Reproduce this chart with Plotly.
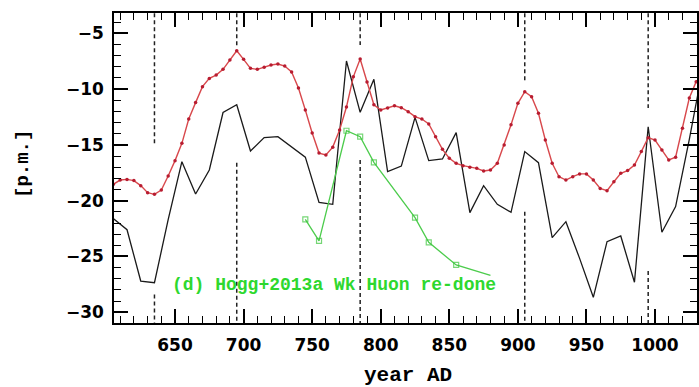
import plotly.graph_objects as go

# ---------------- data ----------------
black_years = list(range(605, 1036, 10))
black_vals = [-21.6, -22.6, -27.2, -27.35, -21.7, -16.5, -19.4, -17.25, -12.1, -11.4,
              -15.55, -14.35, -14.26, -15.16, -16.1, -20.15, -20.33, -7.48, -12.08, -9.12,
              -17.4, -16.9, -12.53, -16.41, -16.26, -13.9, -21.07, -18.65, -20.33, -21.04,
              -15.6, -16.59, -23.31, -21.88, -25.17, -28.66, -23.67, -23.16, -27.31, -13.37,
              -22.83, -20.53, -14.5, -8.0]

red_years = list(range(605, 1031, 5))
red_vals = [-18.53, -18.15, -18.09, -18.2, -18.65, -19.28, -19.43, -19.04, -17.79, -16.41,
            -14.86, -12.68, -11.21, -9.78, -9.04, -8.74, -8.23, -7.39, -6.56, -7.33,
            -8.14, -8.23, -8.05, -7.84, -7.75, -7.93, -8.47, -9.9, -11.87, -13.93,
            -15.73, -15.9, -15.2, -13.67, -11.6, -8.9, -7.3, -9.36, -11.4, -11.87,
            -11.69, -11.5, -11.67, -12.02, -12.47, -12.68, -13.13, -14.26, -15.4, -16.2,
            -16.65, -16.86, -17.0, -17.1, -17.34, -17.25, -16.65, -15.0, -13.2, -11.27,
            -10.23, -10.68, -12.17, -14.56, -16.65, -17.85, -18.15, -17.85, -17.6, -17.6,
            -18.15, -18.9, -19.1, -18.3, -17.55, -17.3, -16.8, -15.6, -14.35, -14.56,
            -15.46, -16.35, -16.1, -13.5, -10.8, -9.33]

green_years = [745, 755, 775, 785, 795, 825, 835, 855, 880]
green_vals = [-21.67, -23.6, -13.73, -14.26, -16.56, -21.52, -23.73, -25.76, -26.7]
green_marker_sizes = [5, 5, 5, 5, 5, 5, 5, 5, 0]

# vertical dotted reference years, with visible segments (value ranges)
ref_years = [635, 695, 785, 905, 995]
ref_segments = [
    [(-3.2, -15.0), (-28.4, -31.0)],
    [(-3.2, -6.2), (-16.6, -31.0)],
    [(-3.2, -6.05), (-16.35, -31.0)],
    [(-3.2, -9.3), (-21.0, -31.0)],
    [(-3.2, -11.7), (-26.3, -31.0)],
]

x_range = [605.5, 1030.6]
y_range = [-30.96, -3.18]

label_text = "(d) Hogg+2013a Wk Huon re-done"

# ---------------- figure ----------------
fig = go.Figure()

fig.add_trace(go.Scatter(x=black_years, y=black_vals, mode="lines",
                         line=dict(color="#1a1a1a", width=1.3), showlegend=False))
fig.add_trace(go.Scatter(x=red_years, y=red_vals, mode="lines+markers",
                         line=dict(color="#d8484c", width=1.4),
                         marker=dict(color="#b81c30", size=3.5), showlegend=False))
fig.add_trace(go.Scatter(x=green_years, y=green_vals, mode="lines+markers",
                         line=dict(color="#4ccc4c", width=1.3),
                         marker=dict(symbol="square-open", color="#3cc43c",
                                     size=green_marker_sizes, line=dict(width=1.2)),
                         showlegend=False))
# invisible trace to anchor the mirrored top/right axes
fig.add_trace(go.Scatter(x=[x_range[0]], y=[y_range[0]], xaxis="x2", yaxis="y2",
                         mode="markers", marker=dict(opacity=0), showlegend=False,
                         hoverinfo="skip"))

shapes = []
for yr, segs in zip(ref_years, ref_segments):
    for (y0, y1) in segs:
        shapes.append(dict(type="line", xref="x", yref="y", x0=yr, x1=yr, y0=y0, y1=y1,
                           line=dict(color="#222", width=1.5, dash="4px,3px"),
                           layer="below"))

tick_font = dict(family="DejaVu Sans", size=17, color="black", weight="bold")
axis_common = dict(showline=True, linewidth=1.6, linecolor="black",
                   ticks="inside", ticklen=14, tickwidth=1.6, tickcolor="black",
                   showgrid=False, zeroline=False, automargin=False, tickfont=tick_font)
x_minor = dict(dtick=10, tick0=0, ticks="inside", ticklen=7, tickwidth=1.4,
               tickcolor="black", showgrid=False)
y_minor = dict(dtick=1, tick0=0, ticks="inside", ticklen=7, tickwidth=1.4,
               tickcolor="black", showgrid=False)

fig.update_layout(
    template="none",
    width=699, height=387,
    margin=dict(l=114, r=2, t=13, b=64, autoexpand=False),
    paper_bgcolor="white", plot_bgcolor="white",
    shapes=shapes,
    xaxis=dict(range=x_range, tickmode="linear", tick0=0, dtick=50, minor=x_minor,
               ticklabelstandoff=6, **axis_common),
    yaxis=dict(range=y_range, tickmode="linear", tick0=0, dtick=5, minor=y_minor,
               ticklabelstandoff=5, **axis_common),
    xaxis2=dict(range=x_range, overlaying="x", side="top", anchor="y",
                tickmode="linear", tick0=0, dtick=50, minor=x_minor,
                showticklabels=False, **axis_common),
    yaxis2=dict(range=y_range, overlaying="y", side="right", anchor="x",
                tickmode="linear", tick0=0, dtick=5, minor=y_minor,
                showticklabels=False, **axis_common),
    annotations=[
        dict(x=646.4, y=-27.55, xref="x", yref="y", text=label_text, showarrow=False,
             xanchor="left", yanchor="middle",
             font=dict(family="Liberation Mono", size=18, color="#2ed82e", weight="bold")),
        dict(x=(408 - 114) / 583, y=-(375 - 323) / 310, xref="paper", yref="paper",
             text="year AD", showarrow=False, xanchor="center", yanchor="middle",
             font=dict(family="Liberation Mono", size=21, color="black", weight="bold")),
        dict(x=(23 - 114) / 583, y=(323 - 164) / 310, xref="paper", yref="paper",
             text="[p.m.]", showarrow=False,
             textangle=-90, xanchor="center", yanchor="middle",
             font=dict(family="Liberation Mono", size=19, color="black", weight="bold")),
    ],
)

fig.write_html("out.html",
               config={"displayModeBar": False},
               post_script="document.body.style.margin='0';"
                           "document.body.style.overflow='hidden';")
